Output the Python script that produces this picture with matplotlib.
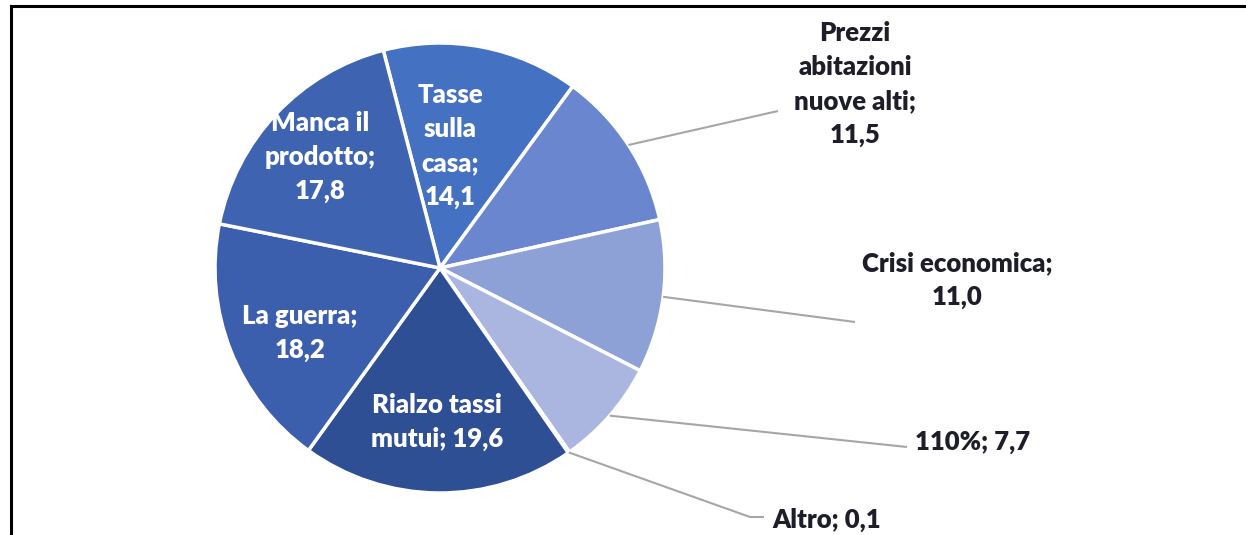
import numpy as np
import matplotlib
matplotlib.use("Agg")
import matplotlib.pyplot as plt

# Data (clockwise order, starting with "Tasse sulla casa")
categories = ["Tasse sulla casa", "Prezzi abitazioni nuove alti", "Crisi economica",
              "110%", "Altro", "Rialzo tassi mutui", "La guerra", "Manca il prodotto"]
values = [14.1, 11.5, 11.0, 7.7, 0.1, 19.6, 18.2, 17.8]
label_texts = ["Tasse\nsulla\ncasa;\n14,1", "Prezzi\nabitazioni\nnuove alti;\n11,5",
               "Crisi economica;\n11,0", "110%; 7,7", "Altro; 0,1",
               "Rialzo tassi\nmutui; 19,6", "La guerra;\n18,2", "Manca il\nprodotto;\n17,8"]
colors = ["#4571C3", "#6A86CF", "#8EA1D6", "#AAB6E0", "#2C4B8E",
          "#2E4F93", "#3B5EAD", "#3D63B1"]

W, H = 1246, 535
def Y(py):
    return H - py

plt.rcParams['font.family'] = ['Lato', 'DejaVu Sans']

fig = plt.figure(figsize=(W / 100, H / 100), dpi=100)
ax = fig.add_axes([0, 0, 1, 1])
cx, cy, R = 440, Y(268), 225
wedges, _ = ax.pie(values, colors=colors, startangle=104.6, counterclock=False,
                   center=(cx, cy), radius=R,
                   wedgeprops=dict(edgecolor='white', linewidth=2.5))
ax.set_xlim(0, W)
ax.set_ylim(0, H)
ax.set_aspect('equal')
ax.axis('off')

fs = 18.5
ls = 1.5
# inside labels (index: (x, y))
inside = {0: (450, 146), 5: (437, 422), 6: (300, 333), 7: (320, 157)}
for i, (x, y) in inside.items():
    ax.text(x, Y(y), label_texts[i], ha='center', va='center', color='white',
            fontsize=fs, fontweight='heavy', linespacing=ls)

# outside labels: (text pos, ha, leader end points after the wedge edge)
outside = {
    1: ((855, 84), 'center', [(778, 111)]),
    2: ((957, 280), 'center', [(855, 322)]),
    3: ((915, 442), 'left', [(907, 447)]),
    4: ((772, 520), 'left', [(750, 517), (764, 517)]),
}
for i, ((tx, ty), ha, pts) in outside.items():
    w = wedges[i]
    mid = np.deg2rad((w.theta1 + w.theta2) / 2)
    sx, sy = cx + R * np.cos(mid), cy + R * np.sin(mid)
    xs = [sx] + [p[0] for p in pts]
    ys = [sy] + [Y(p[1]) for p in pts]
    ax.plot(xs, ys, color='#A6A6A6', lw=1.5, solid_capstyle='butt')
    ax.text(tx, Y(ty), label_texts[i], ha=ha, va='center', color='#1E1E2A',
            fontsize=fs, fontweight='heavy', linespacing=ls)

# frame lines
ax.plot([11, 11], [0, Y(6)], color='black', lw=2.2, clip_on=False)
ax.plot([11, W], [Y(6), Y(6)], color='black', lw=2.2, clip_on=False)

fig.savefig("out.png", dpi=100)
